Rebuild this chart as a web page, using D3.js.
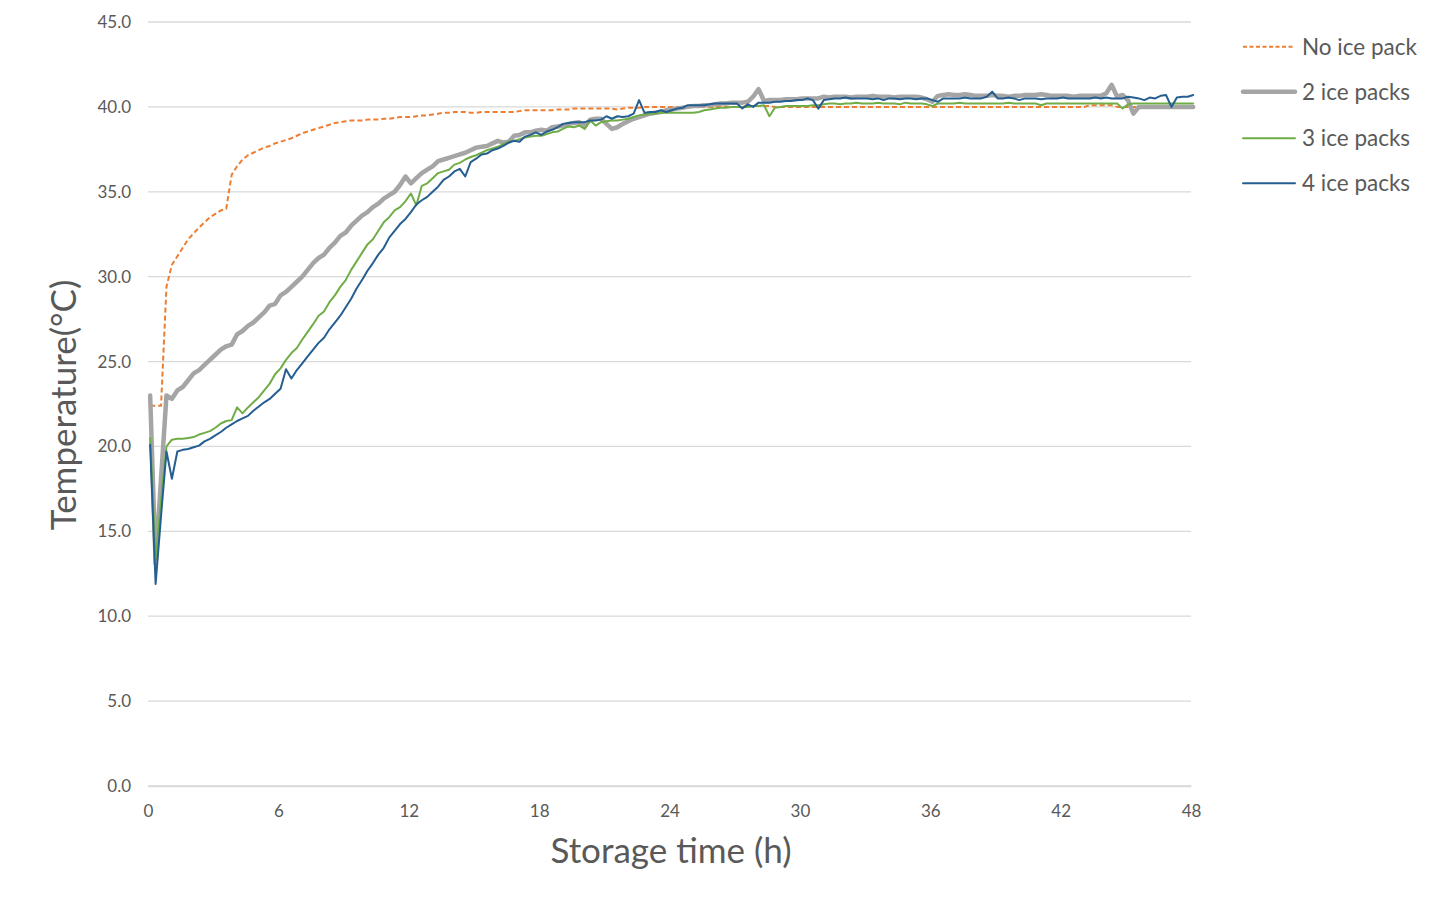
<!DOCTYPE html>
<html><head><meta charset="utf-8">
<script src="https://cdn.jsdelivr.net/npm/d3@7"></script>
<style>body{margin:0;background:#fff}svg{display:block}</style>
</head><body><svg id="chart" width="1434" height="899"></svg>
<script>
// sampling schedule: every 15 min starting at 0.1 h
const sampleTimesH = d3.range(193).map(i => +(0.1 + 0.25 * i).toFixed(2));

const xTicks = [0, 6, 12, 18, 24, 30, 36, 42, 48];
const yTicks = [0, 5, 10, 15, 20, 25, 30, 35, 40, 45];
const seriesNames = ["No ice pack", "2 ice packs", "3 ice packs", "4 ice packs"];

const noIcePack = [
22.4,22.4,22.4,29.4,30.7,31.2,31.7,32.2,32.55,32.9,
33.2,33.5,33.7,33.9,34.0,36.0,36.5,36.9,37.15,37.3,
37.45,37.6,37.7,37.85,37.95,38.05,38.15,38.3,38.45,38.55,
38.65,38.75,38.85,38.95,39.05,39.1,39.15,39.2,39.2,39.2,
39.25,39.25,39.25,39.3,39.3,39.35,39.4,39.4,39.4,39.45,
39.5,39.5,39.55,39.6,39.65,39.65,39.7,39.7,39.7,39.65,
39.65,39.7,39.7,39.7,39.7,39.7,39.7,39.7,39.75,39.8,
39.8,39.8,39.8,39.8,39.8,39.85,39.85,39.85,39.9,39.9,
39.9,39.9,39.9,39.9,39.9,39.9,39.85,39.9,39.95,39.95,
39.95,40.0,40.0,40.0,40.0,40.0,
40.0,40.0,40.0,40.0,40.0,40.0,40.0,40.0,40.0,40.0,
40.0,40.0,40.0,40.0,40.05,40.05,40.05,40.05,40.05,40.0,
40.0,40.0,40.0,40.0,40.0,40.0,40.0,40.0,40.0,40.0,
40.0,40.0,40.0,40.0,40.0,40.0,40.0,40.0,40.0,40.0,
40.0,40.0,40.0,40.0,40.0,40.0,40.0,40.0,40.0,40.0,
40.0,40.0,40.0,40.0,40.0,40.0,40.0,40.0,40.0,40.0,
40.0,40.0,40.0,40.0,40.0,40.0,40.0,40.0,40.0,40.0,
40.0,40.0,40.0,40.0,40.0,40.0,40.0,40.1,40.1,40.1,
40.1,40.1,40.0,40.0,40.0,40.0,40.0,40.0,40.0,40.0,
40.0,40.0,40.0,40.0,40.0,40.0,40.0
];

const twoIcePacks = [
23.0,13.1,18.1,23.0,22.8,23.3,23.5,23.9,24.3,24.5,
24.8,25.1,25.4,25.7,25.9,26.0,26.6,26.8,27.1,27.3,
27.6,27.9,28.3,28.4,28.9,29.1,29.4,29.7,30.0,30.4,
30.8,31.1,31.3,31.7,32.0,32.4,32.6,33.0,33.3,33.6,
33.8,34.1,34.3,34.6,34.8,35.0,35.4,35.9,35.5,35.8,
36.1,36.3,36.5,36.8,36.9,37.0,37.1,37.2,37.3,37.45,
37.6,37.65,37.7,37.85,38.0,37.9,37.95,38.3,38.35,38.5,
38.5,38.6,38.65,38.6,38.8,38.85,38.9,39.0,39.05,39.1,
38.85,39.25,39.3,39.3,39.0,38.7,38.8,39.0,39.15,39.3,
39.4,39.5,39.6,39.65,39.7,39.8,
39.85,39.9,39.95,40.0,
40.05,40.05,40.1,40.1,40.15,40.2,40.2,40.25,40.25,40.25,
40.3,40.6,41.05,40.35,40.4,40.4,40.4,40.45,40.45,40.45,
40.5,40.5,40.5,40.5,40.6,40.55,40.6,40.6,40.6,40.55,
40.6,40.6,40.6,40.65,40.6,40.6,40.6,40.55,40.6,40.6,
40.6,40.6,40.55,40.45,40.3,40.65,40.7,40.75,40.7,40.7,
40.75,40.7,40.65,40.65,40.65,40.7,40.65,40.65,40.6,40.65,
40.65,40.7,40.7,40.7,40.75,40.7,40.65,40.65,40.65,40.65,
40.6,40.65,40.65,40.65,40.65,40.65,40.8,41.3,40.6,40.7,
40.4,39.6,40.0,40.0,40.0,40.0,40.0,40.0,40.0,40.0,
40.0,40.0,40.0
];

const threeIcePacks = [
20.5,13.3,16.8,20.0,20.4,20.45,20.45,20.5,20.55,20.7,
20.8,20.9,21.1,21.35,21.5,21.55,22.3,21.95,22.3,22.6,
22.9,23.3,23.7,24.25,24.6,25.1,25.5,25.8,26.3,26.75,
27.2,27.7,27.95,28.5,28.9,29.4,29.8,30.4,30.9,31.4,
31.9,32.2,32.7,33.2,33.5,33.9,34.1,34.45,34.9,34.2,
35.35,35.5,35.8,36.1,36.2,36.3,36.6,36.7,36.9,37.05,
37.15,37.3,37.45,37.55,37.65,37.8,37.95,38.0,38.1,38.2,
38.25,38.3,38.3,38.4,38.5,38.55,38.7,38.85,38.8,38.9,
38.7,39.2,38.9,39.1,39.15,39.2,39.2,39.25,39.3,39.4,
39.5,39.55,39.6,39.6,39.65,39.65,
39.65,39.65,39.65,39.65,
39.65,39.7,39.8,39.85,39.9,39.95,39.95,40.0,40.0,40.0,
40.0,40.05,40.05,40.1,39.45,39.95,40.0,40.05,40.05,40.05,
40.05,40.05,40.1,40.1,40.15,40.2,40.2,40.15,40.2,40.2,
40.25,40.2,40.2,40.2,40.25,40.2,40.2,40.2,40.15,40.25,
40.2,40.2,40.2,40.15,40.05,40.2,40.2,40.2,40.2,40.25,
40.2,40.2,40.2,40.2,40.2,40.2,40.2,40.2,40.25,40.2,
40.2,40.2,40.2,40.2,40.1,40.2,40.2,40.2,40.2,40.2,
40.2,40.2,40.2,40.2,40.2,40.2,40.2,40.2,40.2,39.9,
40.15,40.2,40.2,40.2,40.2,40.2,40.2,40.2,40.2,40.2,
40.2,40.2,40.2
];

const fourIcePacks = [
20.1,11.9,15.9,19.7,18.1,19.7,19.8,19.85,19.95,20.05,
20.3,20.45,20.65,20.85,21.1,21.3,21.5,21.65,21.8,22.1,
22.35,22.6,22.8,23.1,23.4,24.55,24.0,24.5,24.9,25.3,
25.7,26.1,26.4,26.9,27.3,27.7,28.2,28.7,29.3,29.8,
30.35,30.8,31.3,31.7,32.3,32.7,33.1,33.4,33.8,34.25,
34.5,34.7,35.0,35.3,35.7,35.9,36.2,36.35,35.9,36.75,
36.95,37.2,37.25,37.45,37.55,37.7,37.9,38.0,37.95,38.25,
38.35,38.5,38.35,38.55,38.65,38.8,39.0,39.05,39.1,39.1,
39.1,39.2,39.2,39.25,39.45,39.3,39.45,39.4,39.45,39.6,
40.4,39.65,39.7,39.7,39.8,39.7,
39.8,39.9,39.95,40.1,
40.1,40.1,40.1,40.15,40.2,40.2,40.2,40.2,40.2,39.9,
40.15,40.0,40.25,40.25,40.25,40.3,40.3,40.35,40.35,40.4,
40.4,40.5,40.4,39.9,40.4,40.45,40.5,40.5,40.55,40.5,
40.5,40.5,40.5,40.45,40.5,40.4,40.5,40.5,40.45,40.5,
40.5,40.45,40.5,40.5,40.4,40.3,40.5,40.5,40.5,40.5,
40.55,40.5,40.5,40.5,40.6,40.9,40.5,40.5,40.55,40.5,
40.4,40.5,40.5,40.5,40.45,40.5,40.5,40.5,40.55,40.5,
40.5,40.5,40.5,40.5,40.55,40.5,40.55,40.5,40.5,40.5,
40.6,40.55,40.5,40.4,40.55,40.5,40.65,40.7,40.0,40.55,
40.6,40.6,40.7
];

const seriesStyles = [
  {color: "#ED7D31", width: 2, dash: "5,3", cap: "butt"},
  {color: "#A5A5A5", width: 4.5, dash: null, cap: "round"},
  {color: "#70AD47", width: 2, dash: null, cap: "round"},
  {color: "#255E91", width: 2, dash: null, cap: "round"}
];
const seriesValues = [noIcePack, twoIcePacks, threeIcePacks, fourIcePacks];

const svg = d3.select("#chart");
const font = "Lato, 'Open Sans', sans-serif";
const textColor = "#595959";

const x = d3.scaleLinear().domain([0, 48]).range([148, 1191]);
const y = d3.scaleLinear().domain([0, 45]).range([786, 22]);

// gridlines
svg.append("g").selectAll("line").data(yTicks).join("line")
  .attr("x1", x(0)).attr("x2", x(48))
  .attr("y1", d => y(d)).attr("y2", d => y(d))
  .attr("stroke", "#d9d9d9").attr("stroke-width", 1.3);

// y axis labels
const yAxis = d3.axisLeft(y).tickValues(yTicks).tickFormat(d3.format(".1f")).tickSize(0).tickPadding(17);
const gy = svg.append("g").attr("transform", `translate(${x(0)},0)`).call(yAxis);
gy.select(".domain").remove();
gy.selectAll("text").attr("font-family", font).attr("font-size", 17).attr("fill", textColor);

// x axis
const xAxis = d3.axisBottom(x).tickValues(xTicks).tickFormat(d3.format("d")).tickSize(0).tickPadding(19);
const gx = svg.append("g").attr("transform", `translate(0,${y(0)})`).call(xAxis);
gx.select(".domain").attr("stroke", "#d9d9d9").attr("stroke-width", 1.3);
gx.selectAll("text").attr("font-family", font).attr("font-size", 17).attr("fill", textColor);

// lines
const line = d3.line().x((d, i) => x(sampleTimesH[i])).y(d => y(d));
seriesValues.forEach((vals, k) => {
  const s = seriesStyles[k];
  svg.append("path").datum(vals)
    .attr("d", line)
    .attr("fill", "none")
    .attr("stroke", s.color)
    .attr("stroke-width", s.width)
    .attr("stroke-linejoin", "round")
    .attr("stroke-linecap", s.cap)
    .attr("stroke-dasharray", s.dash);
});

// axis titles
svg.append("text").attr("x", 671).attr("y", 863).attr("text-anchor", "middle")
  .attr("font-family", font).attr("font-size", 35).attr("fill", textColor)
  .text("Storage time (h)");
svg.append("text").attr("transform", "translate(76,405) rotate(-90)").attr("text-anchor", "middle")
  .attr("font-family", font).attr("font-size", 35).attr("fill", textColor)
  .text("Temperature(°C)");

// legend
const legendY = [46.7, 91.7, 138.3, 183.3];
const lg = svg.append("g");
seriesNames.forEach((name, k) => {
  const s = seriesStyles[k];
  lg.append("line").attr("x1", 1243).attr("x2", 1295)
    .attr("y1", legendY[k]).attr("y2", legendY[k])
    .attr("stroke", s.color).attr("stroke-width", s.width)
    .attr("stroke-linecap", s.cap).attr("stroke-dasharray", s.dash ? "4,2.5" : null);
  lg.append("text").attr("x", 1302).attr("y", legendY[k]).attr("dy", "0.35em")
    .attr("font-family", font).attr("font-size", 22.5).attr("fill", textColor)
    .text(name);
});
</script>
</body></html>
